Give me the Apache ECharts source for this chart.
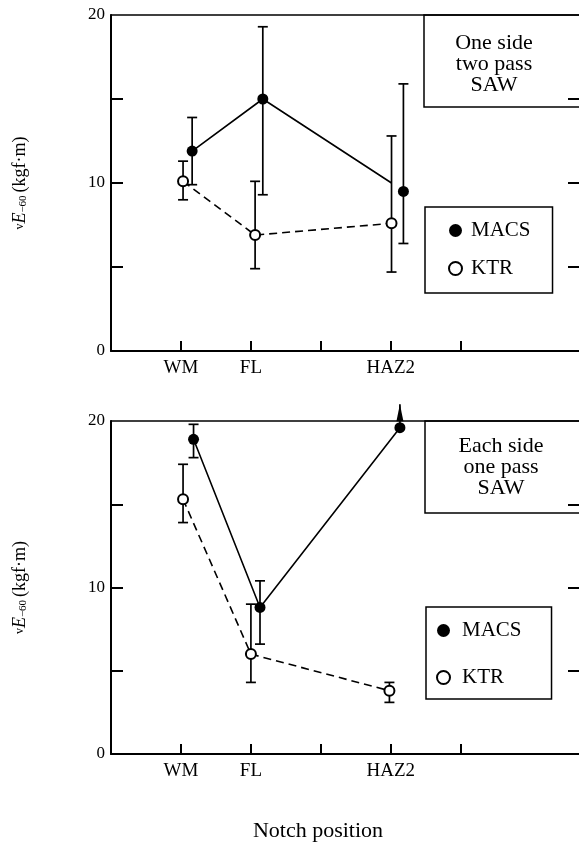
<!DOCTYPE html>
<html>
<head>
<meta charset="utf-8">
<script src="https://cdn.jsdelivr.net/npm/echarts@6/dist/echarts.min.js"></script>
<style>
  html, body { margin: 0; padding: 0; background: #fff; }
  #chart { width: 579px; height: 843px; }
</style>
</head>
<body>
<div id="chart"></div>
<script>
  // notch positions on the x axis
  let tickPos = [1, 2, 3, 4, 5]
  let labelPos = [1, 2, 4]
  let notchLabels = ['WM', 'FL', 'HAZ2']
  let yLabelled = [0, 10, 20]
  let yTicks = [5, 10, 15]

  // upper panel: one side two pass SAW
  let macsX1 = [1.16, 2.17, 4.18]
  let macsY1 = [11.9, 15.0, 9.5]
  let macsLo1 = [9.9, 9.3, 6.4]
  let macsHi1 = [13.9, 19.3, 15.9]
  let macsLineX1 = [1.16, 2.17, 4.01]
  let macsLineY1 = [11.9, 15.0, 10.0]
  let ktrX1 = [1.03, 2.06, 4.01]
  let ktrY1 = [10.1, 6.9, 7.6]
  let ktrLo1 = [9.0, 4.9, 4.7]
  let ktrHi1 = [11.3, 10.1, 12.8]

  // lower panel: each side one pass SAW (HAZ2 MACS upper bound off scale)
  let macsX2 = [1.18, 2.13, 4.13]
  let macsY2 = [18.9, 8.8, 19.6]
  let macsLo2 = [17.8, 6.6, 19.6]
  let macsHi2 = [19.8, 10.4, 21.0]
  let ktrX2 = [1.03, 2.0, 3.98]
  let ktrY2 = [15.3, 6.0, 3.8]
  let ktrLo2 = [13.9, 4.3, 3.1]
  let ktrHi2 = [17.4, 9.0, 4.3]

  const serif = '"Liberation Serif", "DejaVu Serif", serif'
  const yMax = 20

  let chart = echarts.init(document.getElementById('chart'))

  function zip(xs, ys) {
    return xs.map((x, i) => [x, ys[i]])
  }
  function bars(xs, los, his) {
    return xs.map((x, i) => [x, los[i], his[i]])
  }

  function errorBar(params, api) {
    let x = api.value(0), lo = api.value(1), hi = api.value(2)
    let pLo = api.coord([x, lo])
    let pHi = api.coord([x, hi])
    let style = { stroke: '#000', lineWidth: 1.7 }
    let children = [
      { type: 'line', shape: { x1: pLo[0], y1: pLo[1], x2: pHi[0], y2: pHi[1] }, style: style }
    ]
    if (hi - lo > 0.2 && hi <= yMax) {
      children.push({ type: 'line', shape: { x1: pLo[0] - 5, y1: pLo[1], x2: pLo[0] + 5, y2: pLo[1] }, style: style })
    }
    if (hi > yMax) {
      // arrow: value is off scale
      children.push({
        type: 'polygon',
        shape: { points: [[pHi[0], pHi[1]], [pHi[0] + 3.5, pHi[1] + 17], [pHi[0] - 3.5, pHi[1] + 17]] },
        style: { fill: '#000' }
      })
    } else {
      children.push({ type: 'line', shape: { x1: pHi[0] - 5, y1: pHi[1], x2: pHi[0] + 5, y2: pHi[1] }, style: style })
    }
    return { type: 'group', children: children }
  }

  function xAxis(grid) {
    return {
      type: 'value', gridIndex: grid, min: 0, max: 6.69,
      axisLine: { show: true, onZero: false, lineStyle: { color: '#000', width: 2 } },
      axisTick: { show: true, inside: true, length: 10, customValues: tickPos, lineStyle: { color: '#000', width: 2 } },
      axisLabel: {
        customValues: labelPos, margin: 8,
        fontFamily: serif, fontSize: 19, color: '#000',
        formatter: v => notchLabels[labelPos.indexOf(v)] || ''
      },
      splitLine: { show: false }
    }
  }

  // frame line along the top of each panel
  function xAxisTop(grid) {
    return {
      type: 'value', gridIndex: grid, min: 0, max: 6.69, position: 'top',
      axisLine: { show: true, onZero: false, lineStyle: { color: '#000', width: 1.6 } },
      axisTick: { show: false },
      axisLabel: { show: false },
      splitLine: { show: false }
    }
  }

  function yAxisLeft(grid, sub) {
    return {
      type: 'value', gridIndex: grid, min: 0, max: 20, interval: 5, position: 'left',
      name: '{v|v}{e|E}{s|' + sub + '} {n|(kgf\u00b7m)}',
      nameLocation: 'middle', nameGap: 82, nameRotate: 90,
      nameTextStyle: {
        color: '#000', fontFamily: serif,
        rich: {
          v: { fontSize: 12, fontFamily: serif, color: '#000' },
          e: { fontSize: 18, fontFamily: serif, fontStyle: 'italic', color: '#000' },
          s: { fontSize: 11, fontFamily: serif, color: '#000', verticalAlign: 'bottom' },
          n: { fontSize: 18, fontFamily: serif, color: '#000' }
        }
      },
      axisLine: { show: true, onZero: false, lineStyle: { color: '#000', width: 2 } },
      axisTick: { show: true, inside: true, length: 12, customValues: yTicks, lineStyle: { color: '#000', width: 2 } },
      axisLabel: {
        customValues: yLabelled, margin: 6,
        fontFamily: serif, fontSize: 17, color: '#000'
      },
      splitLine: { show: false }
    }
  }

  function yAxisRight(grid) {
    return {
      type: 'value', gridIndex: grid, min: 0, max: 20, position: 'right',
      axisLine: { show: false, onZero: false },
      axisTick: { show: true, inside: true, length: 11, customValues: yTicks, lineStyle: { color: '#000', width: 2 } },
      axisLabel: { show: false },
      splitLine: { show: false }
    }
  }

  function panelSeries(xi, yi, d) {
    return [
      {
        name: 'MACS line', type: 'line', xAxisIndex: xi, yAxisIndex: yi,
        data: d.macsLine, symbol: 'none', z: 2,
        lineStyle: { color: '#000', width: 1.6 }
      },
      {
        name: 'KTR line', type: 'line', xAxisIndex: xi, yAxisIndex: yi,
        data: d.ktrLine, symbol: 'none', z: 2,
        lineStyle: { color: '#000', width: 1.6, type: [8, 5] }
      },
      {
        name: 'MACS bars', type: 'custom', xAxisIndex: xi, yAxisIndex: yi,
        data: d.macsBars, renderItem: errorBar, clip: false, z: 3,
        encode: { x: 0, y: [1, 2] }
      },
      {
        name: 'KTR bars', type: 'custom', xAxisIndex: xi, yAxisIndex: yi,
        data: d.ktrBars, renderItem: errorBar, clip: false, z: 3,
        encode: { x: 0, y: [1, 2] }
      },
      {
        name: 'MACS', type: 'scatter', xAxisIndex: xi, yAxisIndex: yi,
        data: d.macs, symbol: 'circle', symbolSize: 11, z: 5,
        itemStyle: { color: '#000', opacity: 1 }
      },
      {
        name: 'KTR', type: 'scatter', xAxisIndex: xi, yAxisIndex: yi,
        data: d.ktr, symbol: 'circle', symbolSize: 10, z: 5,
        itemStyle: { color: '#fff', borderColor: '#000', borderWidth: 2, opacity: 1 }
      }
    ]
  }

  function legendBox(left, top, padding, gap, textPad) {
    return {
      left: left, top: top, orient: 'vertical', data: ['MACS', 'KTR'],
      selectedMode: false, itemWidth: 13, itemHeight: 13, itemGap: gap,
      padding: padding, borderColor: '#000', borderWidth: 1.5, backgroundColor: '#fff',
      textStyle: { fontFamily: serif, fontSize: 21, color: '#000', padding: [0, 0, 0, textPad] }
    }
  }

  function noteBox(x, y, h, cx, cy, text) {
    return {
      type: 'group', z: 10,
      children: [
        { type: 'rect', shape: { x: x, y: y, width: 200, height: h }, style: { fill: '#fff', stroke: '#000', lineWidth: 1.5 } },
        {
          type: 'text', x: cx, y: cy,
          style: { text: text, align: 'center', verticalAlign: 'middle', font: '22px ' + serif, lineHeight: 21, fill: '#000' }
        }
      ]
    }
  }

  let option = {
    animation: false,
    backgroundColor: '#fff',
    grid: [
      { left: 111, top: 15, width: 471, height: 336 },
      { left: 111, top: 421, width: 471, height: 333 }
    ],
    xAxis: [xAxis(0), xAxis(1), xAxisTop(0), xAxisTop(1)],
    yAxis: [yAxisLeft(0, '\u221260'), yAxisRight(0), yAxisLeft(1, '\u221260'), yAxisRight(1)],
    legend: [
      legendBox(425, 207, [13, 22, 14, 23], 17, 4),
      legendBox(426, 607, [13, 30, 11, 10], 26, 7)
    ],
    series: [].concat(
      panelSeries(0, 0, {
        macsLine: zip(macsLineX1, macsLineY1),
        ktrLine: zip(ktrX1, ktrY1),
        macsBars: bars(macsX1, macsLo1, macsHi1),
        ktrBars: bars(ktrX1, ktrLo1, ktrHi1),
        macs: zip(macsX1, macsY1),
        ktr: zip(ktrX1, ktrY1)
      }),
      panelSeries(1, 2, {
        macsLine: zip(macsX2, macsY2),
        ktrLine: zip(ktrX2, ktrY2),
        macsBars: bars(macsX2, macsLo2, macsHi2),
        ktrBars: bars(ktrX2, ktrLo2, ktrHi2),
        macs: zip(macsX2, macsY2),
        ktr: zip(ktrX2, ktrY2)
      })
    ),
    graphic: [
      noteBox(424, 15, 92, 494, 64, 'One side\ntwo pass\nSAW'),
      noteBox(425, 421, 92, 501, 467, 'Each side\none pass\nSAW'),
      {
        type: 'text', x: 318, y: 831,
        style: { text: 'Notch position', align: 'center', verticalAlign: 'middle', font: '22px ' + serif, fill: '#000' }
      }
    ]
  }
  chart.setOption(option)
</script>
</body>
</html>
